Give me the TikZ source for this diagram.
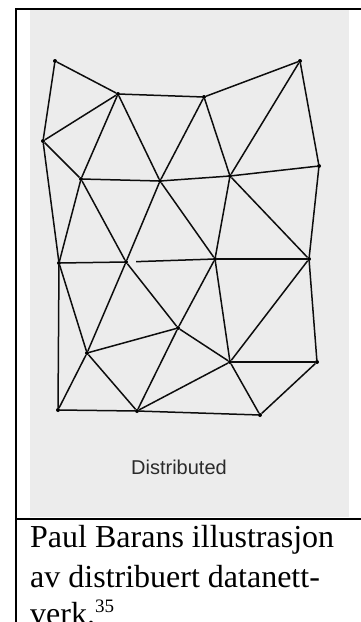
\documentclass[tikz,border=0pt]{standalone}
\usepackage{fontspec}
\setmainfont{Liberation Serif}
\newfontfamily\arialfont{Liberation Sans}
\definecolor{panelgrey}{HTML}{ECECEC}
\definecolor{labelgrey}{HTML}{2A2A2A}
\begin{document}
\begin{tikzpicture}[x=1pt,y=-1pt,
  dot/.style={circle,fill=black,inner sep=0pt,minimum size=4pt},
  link/.style={draw=black!95,line width=1.5pt},
  frameline/.style={draw=black,line width=2pt},
  captxt/.style={anchor=base west,inner sep=0pt,font=\fontsize{32}{38}\selectfont}]
\useasboundingbox (0,0) rectangle (361,622);
% panel
\fill[panelgrey] (30,10) rectangle (349,517);
% frame
\draw[frameline] (361,8.5) -- (15.5,8.5) -- (15.5,622);
\draw[frameline] (15.5,519) -- (361,519);
% nodes
\node[dot] (A) at (55,61) {};
\node[dot] (B) at (118,94) {};
\node[dot] (C) at (204,97) {};
\node[dot] (D) at (300,61) {};
\node[dot] (E) at (43,141) {};
\node[dot] (F) at (81,179) {};
\node[dot] (G) at (160,181) {};
\node[dot] (H) at (230,176) {};
\node[dot] (I) at (319,166) {};
\node[dot] (J) at (59,263) {};
\node[dot] (K) at (126,262) {};
\node[dot] (L) at (215,259) {};
\node[dot] (M) at (309,259) {};
\node[dot] (N) at (178,328) {};
\node[dot] (O) at (87,353) {};
\node[dot] (P) at (230,362) {};
\node[dot] (Q) at (317,362) {};
\node[dot] (R) at (58,410) {};
\node[dot] (S) at (137,411) {};
\node[dot] (T) at (260,415) {};
% links
\foreach \u/\v in {A/B,A/E,B/C,C/D,D/I,D/H,B/E,B/F,B/G,C/G,C/H,E/F,E/J,F/G,G/H,H/I,I/M,
  F/J,F/K,G/K,G/L,H/L,H/M,J/K,L/M,J/O,J/R,K/O,K/N,L/N,L/P,M/P,M/Q,
  O/N,N/S,N/P,O/R,O/S,R/S,S/P,P/Q,P/T,Q/T,S/T}
  \draw[link] (\u) -- (\v);
\draw[link,shorten <=8pt] (K) -- (L);
% labels
\node[anchor=base,inner sep=0pt,text=labelgrey,font=\arialfont\fontsize{20}{24}\selectfont] (lbl) at (179,474) {Distributed};
\node[captxt] (c1) at (30,547) {Paul Barans illustrasjon};
\node[captxt] (c2) at (30,587) {av distribuert datanett-};
\node[captxt] (c3) at (30,624) {verk.\raisebox{12pt}{\fontsize{19}{22}\selectfont 35}};
\end{tikzpicture}
\end{document}
